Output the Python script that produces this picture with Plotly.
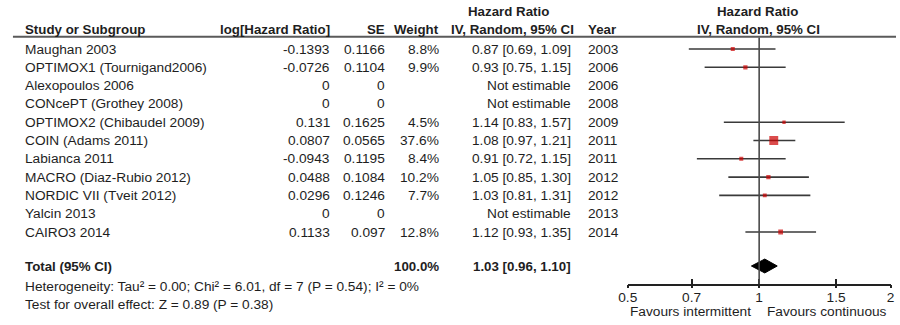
import math
import plotly.graph_objects as go

# ---------------- data ----------------
studies = ["Maughan 2003", "OPTIMOX1 (Tournigand2006)", "Alexopoulos 2006",
           "CONcePT (Grothey 2008)", "OPTIMOX2 (Chibaudel 2009)", "COIN (Adams 2011)",
           "Labianca 2011", "MACRO (Diaz-Rubio 2012)", "NORDIC VII (Tveit 2012)",
           "Yalcin 2013", "CAIRO3 2014"]
log_hr = [-0.1393, -0.0726, 0, 0, 0.131, 0.0807, -0.0943, 0.0488, 0.0296, 0, 0.1133]
se = [0.1166, 0.1104, 0, 0, 0.1625, 0.0565, 0.1195, 0.1084, 0.1246, 0, 0.097]
weight = [8.8, 9.9, None, None, 4.5, 37.6, 8.4, 10.2, 7.7, None, 12.8]
hr = [0.87, 0.93, None, None, 1.14, 1.08, 0.91, 1.05, 1.03, None, 1.12]
ci_lo = [0.69, 0.75, None, None, 0.83, 0.97, 0.72, 0.85, 0.81, None, 0.93]
ci_hi = [1.09, 1.15, None, None, 1.57, 1.21, 1.15, 1.30, 1.31, None, 1.35]
years = [2003, 2006, 2006, 2008, 2009, 2011, 2011, 2012, 2012, 2013, 2014]

total_hr, total_lo, total_hi = 1.03, 0.96, 1.10
total_weight = "100.0%"
heterogeneity = "Heterogeneity: Tau² = 0.00; Chi² = 6.01, df = 7 (P = 0.54); I² = 0%"
overall = "Test for overall effect: Z = 0.89 (P = 0.38)"
tick_vals = [0.5, 0.7, 1, 1.5, 2]
tick_text = ["0.5", "0.7", "1", "1.5", "2"]
fav_left = "Favours intermittent"
fav_right = "Favours continuous"

# ---------------- layout constants ----------------
W, H = 900, 325
ROW0, ROWH = 49.0, 18.3          # pixel y of first row, row spacing
AXIS_PX = 284.0                   # pixel y of the x-axis line
FONT = "Liberation Sans, Arial, sans-serif"
FS = 13.7
FSB = 13.3
TXT = "#1e1e1e"

def row_of(px):
    return (px - ROW0) / ROWH

def py(px):
    return 1 - px / H

def px_x(px):
    return px / W

TOTAL_ROW = row_of(266)

fig = go.Figure()

# CI lines
xs, ys = [], []
for i, (lo, hi) in enumerate(zip(ci_lo, ci_hi)):
    if lo is None:
        continue
    xs += [lo, hi, None]
    ys += [i, i, None]
fig.add_trace(go.Scatter(x=xs, y=ys, mode="lines",
                         line=dict(color="#3a3a3a", width=1.6),
                         hoverinfo="skip", showlegend=False))

# point estimates
mx, my, ms = [], [], []
for i, (h, w) in enumerate(zip(hr, weight)):
    if h is None:
        continue
    mx.append(h); my.append(i); ms.append(2.6 + 0.168 * w)
fig.add_trace(go.Scatter(x=mx, y=my, mode="markers",
                         marker=dict(symbol="square", size=ms, color="#cc0000",
                                     line=dict(width=0)),
                         hoverinfo="skip", showlegend=False))

# total diamond
dh = 0.38
fig.add_trace(go.Scatter(x=[total_lo, total_hr, total_hi, total_hr, total_lo],
                         y=[TOTAL_ROW, TOTAL_ROW - dh, TOTAL_ROW, TOTAL_ROW + dh, TOTAL_ROW],
                         mode="lines", fill="toself", fillcolor="#000000",
                         line=dict(color="#000000", width=1),
                         hoverinfo="skip", showlegend=False))

# dummy trace on xaxis2 (lower tick halves)
fig.add_trace(go.Scatter(x=[1], y=[0], xaxis="x2", mode="markers",
                         marker=dict(opacity=0), hoverinfo="skip", showlegend=False))

ann = []

def add(text, xpx, yval, anchor="left", bold=False, yref="y", size=None):
    ann.append(dict(text=("<b>%s</b>" % text) if bold else text,
                    x=px_x(xpx), xref="paper", y=yval, yref=yref,
                    xanchor=anchor, yanchor="middle", showarrow=False,
                    font=dict(family=FONT, size=size or (FSB if bold else FS), color=TXT)))

# headers
hdr = row_of(29)
hdr1 = row_of(11)
add("Study or Subgroup", 13, hdr, bold=True)
add("log[Hazard Ratio]", 327, hdr, anchor="right", bold=True)
add("SE", 383, hdr, anchor="right", bold=True)
add("Weight", 438, hdr, anchor="right", bold=True)
add("Hazard Ratio", 506, hdr1, anchor="center", bold=True)
add("IV, Random, 95% CI", 510, hdr, anchor="center", bold=True)
add("Year", 585, hdr, bold=True)
add("Hazard Ratio", 759, hdr1, anchor="center", bold=True)
add("IV, Random, 95% CI", 760, hdr, anchor="center", bold=True)

# rows
for i, name in enumerate(studies):
    add(name, 13, i)
    add(f"{log_hr[i]:g}", 327, i, anchor="right")
    add(f"{se[i]:g}", 383, i, anchor="right")
    if weight[i] is not None:
        add(f"{weight[i]:.1f}%", 438, i, anchor="right")
        add(f"{hr[i]:.2f} [{ci_lo[i]:.2f}, {ci_hi[i]:.2f}]", 572, i, anchor="right")
    else:
        add("Not estimable", 572, i, anchor="right")
    add(str(years[i]), 585, i)

# total
add("Total (95% CI)", 13, TOTAL_ROW, bold=True)
add(total_weight, 438, TOTAL_ROW, anchor="right", bold=True)
add(f"{total_hr:.2f} [{total_lo:.2f}, {total_hi:.2f}]", 572, TOTAL_ROW, anchor="right", bold=True)
add(heterogeneity, 13, py(286), yref="paper")
add(overall, 13, py(304), yref="paper")
add(fav_left, 755, py(311), anchor="right", yref="paper")
add(fav_right, 767, py(311), anchor="left", yref="paper")

shapes = [
    # header rule
    dict(type="line", xref="paper", yref="paper", x0=px_x(3), x1=1,
         y0=py(36.8), y1=py(36.8), line=dict(color="#5a5a5a", width=2)),
    # line of no effect
    dict(type="line", xref="x", yref="paper", x0=1, x1=1,
         y0=py(37.5), y1=py(AXIS_PX), line=dict(color="#4a4a4a", width=1.6)),
]

y_top = row_of(0)
y_bot = row_of(AXIS_PX)
xdom = [627.5 / W, 894.5 / W]
xr = [math.log10(0.5), math.log10(2)]

fig.update_layout(
    width=W, height=H, margin=dict(l=0, r=0, t=0, b=0),
    paper_bgcolor="white", plot_bgcolor="white",
    annotations=ann, shapes=shapes, showlegend=False,
    xaxis=dict(type="log", range=xr, domain=xdom, anchor="y",
               showgrid=False, showline=True, linecolor="#222", linewidth=2,
               ticks="inside", ticklen=5, tickwidth=1.5, tickcolor="#222",
               tickvals=tick_vals, ticktext=tick_text,
               tickfont=dict(family=FONT, size=FS, color=TXT), fixedrange=True),
    xaxis2=dict(type="log", range=xr, domain=xdom, anchor="y", overlaying="x",
                side="bottom", showgrid=False, showline=False,
                ticks="outside", ticklen=3, tickwidth=1.5, tickcolor="#222",
                tickvals=tick_vals, showticklabels=False, fixedrange=True),
    yaxis=dict(range=[y_bot, y_top], domain=[1 - AXIS_PX / H, 1],
               visible=False, fixedrange=True),
)

fig.write_html("out.html")
